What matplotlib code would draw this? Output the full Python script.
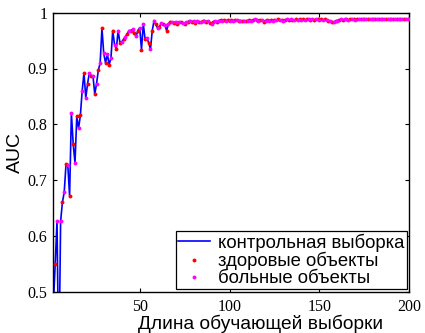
import matplotlib

matplotlib.use("Agg")
import matplotlib.pyplot as plt
import numpy as np

# AUC vs training-set length
train_len = list(range(2, 201))
auc_control = [
    0.480, 0.550, 0.626, 0.350, 0.626, 0.660, 0.678, 0.728, 0.727,  # 2-10
    0.672, 0.820, 0.765, 0.731, 0.814, 0.793, 0.816, 0.860, 0.892, 0.847,  # 11-20
    0.873, 0.892, 0.887, 0.887, 0.854, 0.873, 0.897, 0.910, 0.972, 0.927,  # 21-30
    0.910, 0.926, 0.907, 0.918, 0.968, 0.943, 0.935, 0.968, 0.946, 0.948,  # 31-40
    0.952, 0.957, 0.961, 0.968, 0.968, 0.970, 0.963, 0.958, 0.968, 0.973,  # 41-50
    0.934, 0.980, 0.952, 0.955, 0.946, 0.935, 0.968, 0.986, 0.979, 0.972,  # 51-60
    0.975, 0.981, 0.980, 0.978, 0.968, 0.980, 0.984, 0.983, 0.981, 0.984,  # 61-70
    0.979, 0.983, 0.983, 0.982, 0.980, 0.983, 0.984, 0.986, 0.984, 0.985,  # 71-80
    0.982, 0.985, 0.984, 0.983, 0.985, 0.986, 0.984, 0.985, 0.982, 0.979,  # 81-90
    0.984, 0.985, 0.983, 0.986, 0.987, 0.986, 0.987, 0.986, 0.987, 0.986,  # 91-100
    0.987, 0.986, 0.987, 0.987, 0.986, 0.986, 0.985, 0.986, 0.985, 0.986,  # 101-110
    0.987, 0.986, 0.987, 0.988, 0.987, 0.986, 0.987, 0.987, 0.984, 0.986,  # 111-120
    0.987, 0.986, 0.987, 0.986, 0.987, 0.987, 0.988, 0.987, 0.987, 0.986,  # 121-130
    0.987, 0.988, 0.987, 0.988, 0.987, 0.987, 0.988, 0.987, 0.988, 0.987,  # 131-140
    0.988, 0.987, 0.988, 0.988, 0.987, 0.988, 0.987, 0.988, 0.988, 0.987,  # 141-150
    0.988, 0.987, 0.988, 0.987, 0.986, 0.985, 0.984, 0.983, 0.985, 0.986,  # 151-160
    0.987, 0.988, 0.987, 0.988, 0.988, 0.987, 0.988, 0.988, 0.988, 0.987,  # 161-170
    0.988, 0.988, 0.989, 0.988, 0.988, 0.988, 0.989, 0.988, 0.988, 0.989,  # 171-180
    0.988, 0.989, 0.988, 0.989, 0.988, 0.988, 0.989, 0.988, 0.989, 0.988,  # 181-190
    0.989, 0.988, 0.989, 0.989, 0.988, 0.989, 0.989, 0.988, 0.989, 0.989,  # 191-200
]

# objects are added alternately: odd lengths -> healthy, even -> sick
healthy_len = [n for n in train_len if n % 2 == 1]
healthy_auc = [a for n, a in zip(train_len, auc_control) if n % 2 == 1]
sick_len = [n for n in train_len if n % 2 == 0]
sick_auc = [a for n, a in zip(train_len, auc_control) if n % 2 == 0]

y_ticks = [0.5, 0.6, 0.7, 0.8, 0.9, 1.0]
y_tick_labels = ["0.5", "0.6", "0.7", "0.8", "0.9", "1"]
x_ticks = [50, 100, 150, 200]

SANS = ["Liberation Sans", "DejaVu Sans"]
SERIF = ["Liberation Serif", "DejaVu Serif"]

fig = plt.figure(figsize=(4.25, 3.33), dpi=100)
ax = fig.add_axes([52.7 / 425, 41.3 / 333, 356.6 / 425, 279.0 / 333])

ax.plot(train_len, auc_control, color="#0000ff", lw=1.2, label="контрольная выборка", zorder=2)
ax.plot(healthy_len, healthy_auc, ls="none", marker="o", ms=2.8, mew=0, color="#ff0000",
        label="здоровые объекты", zorder=3)
ax.plot(sick_len, sick_auc, ls="none", marker="o", ms=2.8, mew=0, color="#ff00ff",
        label="больные объекты", zorder=3)

ax.set_xlim(1.6, 200)
ax.set_ylim(0.5, 1.0)
ax.set_xticks(x_ticks)
ax.set_xticklabels([str(t) for t in x_ticks])
ax.set_yticks(y_ticks)
ax.set_yticklabels(y_tick_labels)
ax.tick_params(direction="in", top=True, right=True, length=3, width=0.8, pad=4,
               labelsize=11.5, colors="black")
ax.tick_params(axis="x", pad=5)
for lab in ax.get_xticklabels() + ax.get_yticklabels():
    lab.set_family(SERIF)
for sp in ax.spines.values():
    sp.set_linewidth(1.0)

ax.set_xlabel("Длина обучающей выборки", family=SANS, fontsize=13.8)
ax.xaxis.set_label_coords(0.583, -0.083)
ax.set_ylabel("AUC", family=SANS, fontsize=14)
ax.yaxis.set_label_coords(-0.082, 0.5)

leg = ax.legend(loc="lower right", bbox_to_anchor=(406.7 / 425, 43.7 / 333),
                bbox_transform=fig.transFigure, borderaxespad=0, frameon=True,
                fancybox=False, framealpha=1, edgecolor="black", handlelength=1.7,
                handletextpad=0.45, labelspacing=0.0, borderpad=0.12,
                prop={"family": SANS, "size": 13.3}, markerscale=1.0)
leg.get_frame().set_linewidth(0.9)

fig.savefig("out.png", dpi=100)
